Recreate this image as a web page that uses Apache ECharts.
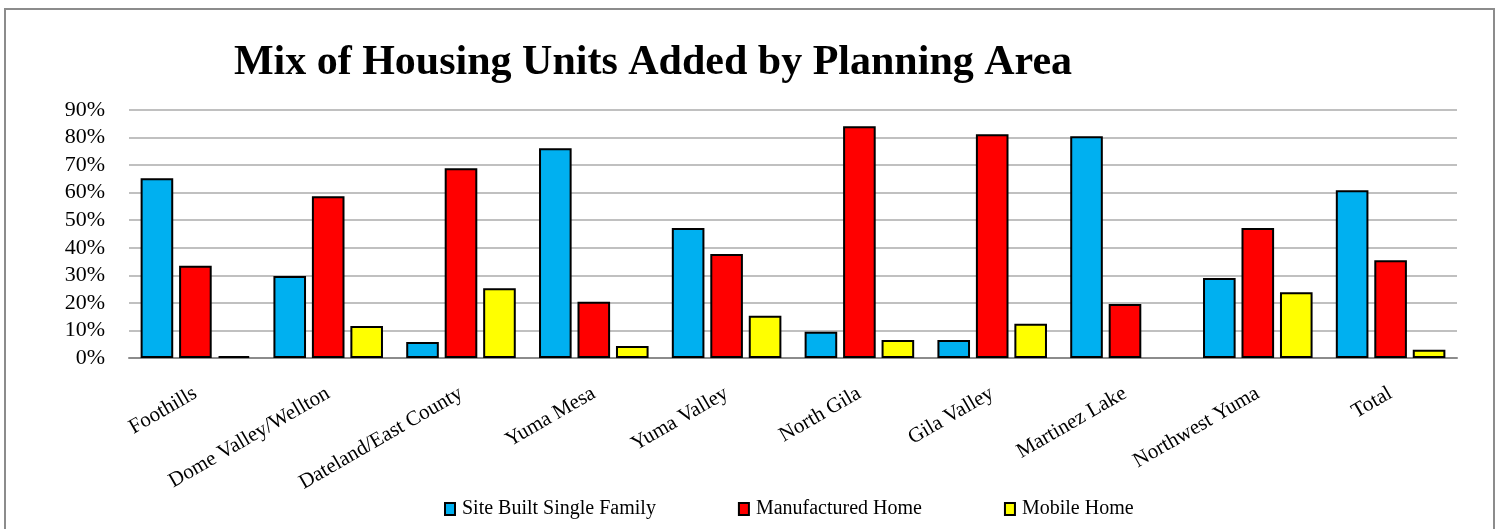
<!DOCTYPE html>
<html>
<head>
<meta charset="utf-8">
<script src="https://cdn.jsdelivr.net/npm/echarts@6/dist/echarts.min.js"></script>
<style>
html,body{margin:0;padding:0;background:#fff;}
#chart{width:1498px;height:529px;}
</style>
</head>
<body>
<div id="chart"></div>
<script>
const categories = ["Foothills","Dome Valley/Wellton","Dateland/East County","Yuma Mesa","Yuma Valley","North Gila","Gila Valley","Martinez Lake","Northwest Yuma","Total"];
const siteBuilt = [65.2, 29.8, 5.8, 76.1, 47.2, 9.5, 6.5, 80.5, 29.0, 60.9];
const manufactured = [33.5, 58.7, 68.9, 20.4, 37.7, 84.1, 81.2, 19.6, 47.2, 35.5];
const mobile = [0.7, 11.6, 25.3, 4.4, 15.3, 6.5, 12.4, 0, 23.9, 3.0];
const seriesNames = ["Site Built Single Family","Manufactured Home","Mobile Home"];
const colors = ["#00B0F0","#FF0000","#FFFF00"];

const font = "'Liberation Serif','Times New Roman',serif";
const chart = echarts.init(document.getElementById('chart'));
function mk(name, data, color){
  return {name:name,type:'bar',
    data:data.map(v => v === 0 ? {value:0,itemStyle:{borderWidth:0}} : v),
    barGap:'18%',barCategoryGap:'17.5%',
    itemStyle:{color:color,borderColor:'#000',borderWidth:2}};
}
chart.setOption({
  animation:false,
  graphic:[{type:'rect',shape:{x:5,y:9,width:1489,height:540},style:{fill:'none',stroke:'#8c8c8c',lineWidth:2},z:-1}],
  title:{text:'Mix of Housing Units Added by Planning Area',left:648,textAlign:'center',top:37,
    textStyle:{fontFamily:font,fontSize:42,fontWeight:'bold',color:'#000'}},
  legend:{bottom:5,left:439,itemWidth:10,itemHeight:12,itemGap:82,icon:'rect',
    textStyle:{fontFamily:font,fontSize:20,color:'#000',padding:[0,0,0,2]},
    data:seriesNames},
  grid:{left:129,right:41,top:110,bottom:171,containLabel:false},
  xAxis:{type:'category',data:categories,
    axisLine:{lineStyle:{color:'#8c8c8c',width:2}},
    axisTick:{show:false},
    axisLabel:{rotate:30,interval:0,margin:34,fontFamily:font,fontSize:21,color:'#000'}},
  yAxis:{type:'value',min:0,max:90,interval:10,
    axisLine:{show:false},axisTick:{show:false},
    splitLine:{lineStyle:{color:'#c0c0c0',width:2}},
    axisLabel:{formatter:'{value}%',fontFamily:font,fontSize:22,color:'#000',margin:24}},
  series:[mk(seriesNames[0],siteBuilt,colors[0]),mk(seriesNames[1],manufactured,colors[1]),mk(seriesNames[2],mobile,colors[2])]
});
</script>
</body>
</html>
